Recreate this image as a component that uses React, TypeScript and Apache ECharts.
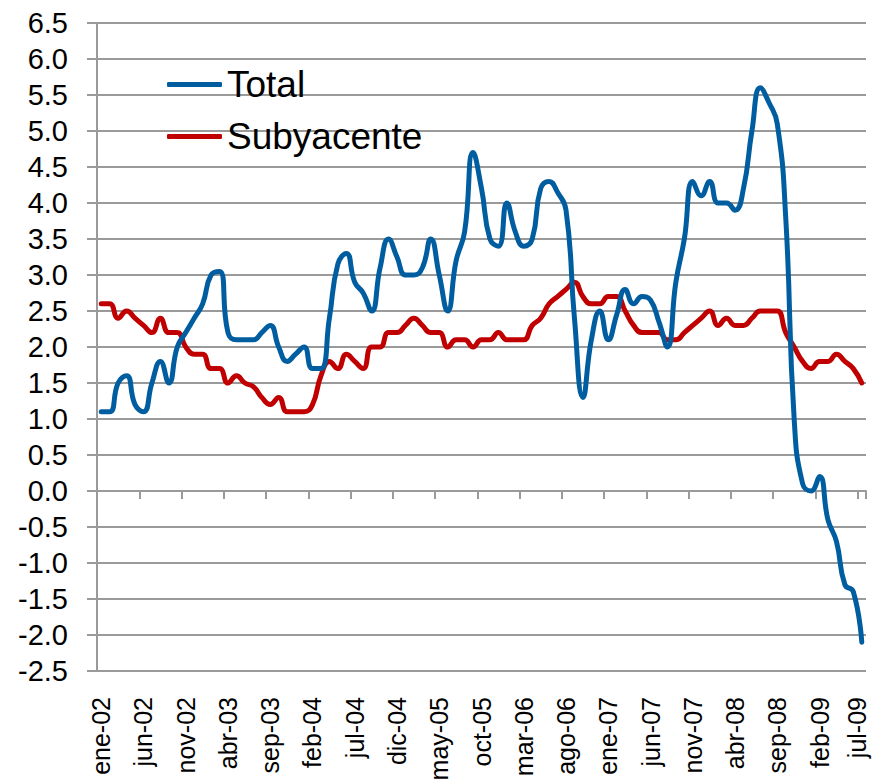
import React, { useEffect, useRef } from "react";
import * as echarts from "echarts";

const monthNames = ["ene", "feb", "mar", "abr", "may", "jun", "jul", "ago", "sep", "oct", "nov", "dic"];
const years = ["02", "03", "04", "05", "06", "07", "08", "09"];
const lastMonthCount = 7; // ene-09 .. jul-09

const categories: string[] = [];
years.forEach((y, yi) => {
  const n = yi === years.length - 1 ? lastMonthCount : 12;
  for (let m = 0; m < n; m++) categories.push(`${monthNames[m]}-${y}`);
});

const totalValues = [
  1.1, 1.1, 1.5, 1.6, 1.2, 1.1, 1.5, 1.8, 1.5, 2.0,
  2.2, 2.4, 2.6, 3.0, 3.05, 2.2, 2.1, 2.1, 2.1, 2.2,
  2.3, 2.0, 1.8, 1.9, 2.0, 1.7, 1.7, 2.4, 3.15, 3.3,
  2.9, 2.75, 2.5, 3.1, 3.5, 3.25, 3.0, 3.0, 3.1, 3.5,
  3.0, 2.5, 3.2, 3.6, 4.7, 4.2, 3.5, 3.4, 4.0, 3.6,
  3.4, 3.5, 4.2, 4.3, 4.15, 3.9, 2.4, 1.3, 2.1, 2.5,
  2.1, 2.45, 2.8, 2.6, 2.7, 2.65, 2.35, 2.0, 2.9, 3.5,
  4.3, 4.1, 4.3, 4.0, 4.0, 3.9, 4.2, 5.0, 5.6, 5.4,
  5.1, 3.8, 1.0, 0.1, 0.0, 0.2, -0.4, -0.7, -1.3, -1.4,
  -2.1,
];

const subyacenteValues = [
  2.6, 2.6, 2.4, 2.5, 2.4, 2.3, 2.2, 2.4, 2.2, 2.2,
  2.0, 1.9, 1.9, 1.7, 1.7, 1.5, 1.6, 1.5, 1.45, 1.3,
  1.2, 1.3, 1.1, 1.1, 1.1, 1.2, 1.6, 1.8, 1.7, 1.9,
  1.8, 1.7, 2.0, 2.0, 2.2, 2.2, 2.3, 2.4, 2.3, 2.2,
  2.2, 2.0, 2.1, 2.1, 2.0, 2.1, 2.1, 2.2, 2.1, 2.1,
  2.1, 2.3, 2.4, 2.6, 2.7, 2.8, 2.9, 2.7, 2.6, 2.6,
  2.7, 2.7, 2.5, 2.3, 2.2, 2.2, 2.2, 2.1, 2.1, 2.2,
  2.3, 2.4, 2.5, 2.3, 2.4, 2.3, 2.3, 2.4, 2.5, 2.5,
  2.5, 2.2, 2.0, 1.8, 1.7, 1.8, 1.8, 1.9, 1.8, 1.7,
  1.5,
];

const FONT = "'Liberation Sans', Arial, sans-serif";
const BLUE = "#005EA0";
const RED = "#C00000";
const GRID = "#9a9a9a";

export default function App() {
  const ref = useRef<HTMLDivElement>(null);

  useEffect(() => {
    if (!ref.current) return;
    const chart = echarts.init(ref.current, undefined, { renderer: "svg" });
    chart.setOption({
      animation: false,
      backgroundColor: "#ffffff",
      textStyle: { fontFamily: FONT },
      grid: {
        left: 97,
        right: 7,
        top: 23,
        bottom: 109,
        containLabel: false,
        outerBoundsMode: "none",
      },
      legend: {
        orient: "vertical",
        left: 167,
        top: 66,
        padding: 0,
        itemWidth: 55,
        itemHeight: 5,
        itemGap: 15,
        icon: "roundRect",
        textStyle: { fontSize: 37, color: "#000", fontFamily: FONT, lineHeight: 37 },
        data: ["Total", "Subyacente"],
      },
      xAxis: [
        {
          type: "category",
          data: categories,
          position: "bottom",
          boundaryGap: true,
          axisLine: { show: false, onZero: false },
          axisTick: { show: false },
          splitLine: { show: false },
          axisLabel: {
            interval: 4,
            rotate: 90,
            margin: 26,
            fontSize: 25,
            lineHeight: 18,
            color: "#000",
            fontFamily: FONT,
            formatter: (value: string, index: number) =>
              index === categories.length - 1 ? `{last|${value}}` : value,
            rich: {
              last: {
                fontSize: 25,
                lineHeight: 18,
                color: "#000",
                fontFamily: FONT,
                padding: [0, 0, 10, 0],
              },
            },
          },
        },
        {
          type: "category",
          data: categories,
          position: "bottom",
          boundaryGap: true,
          axisLine: { show: true, onZero: true, lineStyle: { color: GRID, width: 2 } },
          axisTick: { show: true, interval: 4, length: 8, lineStyle: { color: GRID, width: 2 } },
          axisLabel: { show: false },
          splitLine: { show: false },
        },
      ],
      yAxis: {
        type: "value",
        min: -2.5,
        max: 6.5,
        interval: 0.5,
        axisLine: { show: true, lineStyle: { color: GRID, width: 2 } },
        axisTick: { show: true, length: 10, lineStyle: { color: GRID, width: 2 } },
        splitLine: { show: true, lineStyle: { color: GRID, width: 2 } },
        axisLabel: {
          margin: 29,
          fontSize: 29,
          color: "#000",
          fontFamily: FONT,
          formatter: (v: number) => v.toFixed(1),
        },
      },
      series: [
        {
          name: "Total",
          type: "line",
          xAxisIndex: 0,
          data: totalValues,
          smooth: 0.5,
          symbol: "none",
          lineStyle: { color: BLUE, width: 5, cap: "round", join: "round" },
          itemStyle: { color: BLUE },
          z: 3,
        },
        {
          name: "Subyacente",
          type: "line",
          xAxisIndex: 0,
          data: subyacenteValues,
          smooth: 0.5,
          symbol: "none",
          lineStyle: { color: RED, width: 5, cap: "round", join: "round" },
          itemStyle: { color: RED },
          z: 2,
        },
      ],
    });
    return () => chart.dispose();
  }, []);

  return <div ref={ref} style={{ width: 873, height: 780, position: "absolute", left: 0, top: 0 }} />;
}
